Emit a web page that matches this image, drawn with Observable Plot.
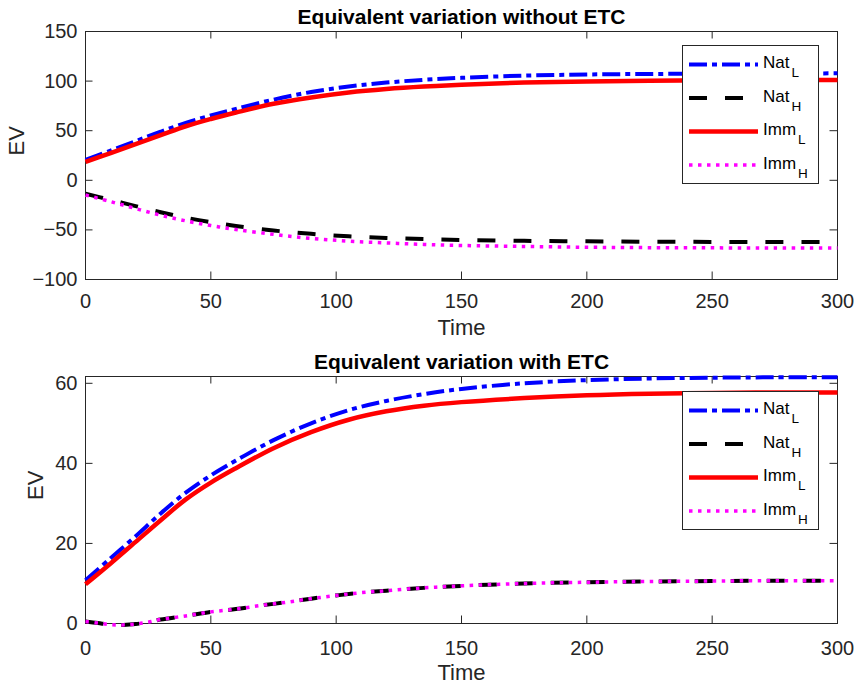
<!DOCTYPE html>
<html><head><meta charset="utf-8">
<script src="https://cdn.jsdelivr.net/npm/d3@7"></script>
<script src="https://cdn.jsdelivr.net/npm/@observablehq/plot@0.6"></script>
<style>
html,body{margin:0;padding:0;background:#fff;}
#page{position:relative;width:857px;height:687px;overflow:hidden;}
.panel{position:relative;width:857px;}
.panel svg{display:block;}
</style></head><body><div id="page"></div>
<script>
// ---------- data ----------
const xTicks = [0, 50, 100, 150, 200, 250, 300];
const yTicksNoETC = [-100, -50, 0, 50, 100, 150];
const yTicksETC = [0, 20, 40, 60];

const seriesNames = ["Nat", "Nat", "Imm", "Imm"];
const seriesSubs = ["L", "H", "L", "H"];

// Panel 1: without ETC
const timeNoETC = [0, 10, 20, 30, 40, 50, 60, 75, 90, 105, 120, 135, 150, 175, 200, 225, 250, 275, 300];
const natL_noETC = [20.5, 30, 39.5, 49, 57.8, 65.3, 72, 81.3, 89, 94.5, 98.5, 101.3, 103.3, 105.5, 106.7, 107.2, 107.5, 107.7, 107.8];
const natH_noETC = [-13.5, -19.7, -26, -32.2, -37.7, -42.2, -46, -50.6, -54, -56.5, -58.1, -59.3, -60.2, -61, -61.5, -61.9, -62.1, -62.2, -62.3];
const immL_noETC = [18.5, 27.5, 36.5, 45.5, 54.5, 61.8, 68.3, 77.2, 83.5, 88.5, 92, 94.5, 96.3, 98.5, 99.7, 100.4, 100.8, 101, 101];
const immH_noETC = [-14.8, -21.5, -28.5, -35.2, -40.9, -45.6, -49.6, -54.5, -58.6, -61.3, -63.1, -64.6, -65.7, -66.7, -67.5, -67.9, -68.1, -68.2, -68.3];

// Panel 2: with ETC
const timeETC_L = [0, 10, 20, 30, 40, 50, 60, 75, 90, 105, 120, 135, 150, 175, 200, 225, 250, 275, 300];
const natL_ETC = [10.8, 16.3, 21.8, 27.5, 32.7, 37, 40.7, 45.8, 50, 53.3, 55.6, 57.3, 58.6, 60, 60.8, 61.2, 61.4, 61.5, 61.5];
const immL_ETC = [9.8, 15, 20.4, 25.8, 31, 35.2, 38.8, 43.8, 47.8, 50.9, 53, 54.4, 55.3, 56.3, 57, 57.4, 57.6, 57.7, 57.7];
const timeETC_H = [0, 5, 10, 15, 20, 25, 30, 40, 50, 60, 70, 80, 90, 100, 110, 120, 135, 150, 175, 200, 225, 250, 275, 300];
const natH_ETC = [0.5, 0.1, -0.3, -0.35, -0.15, 0.35, 1.0, 1.9, 2.9, 3.6, 4.5, 5.3, 6.2, 7.0, 7.7, 8.2, 8.9, 9.4, 10.0, 10.3, 10.5, 10.6, 10.7, 10.7];
const immH_ETC = [0.5, 0.1, -0.3, -0.35, -0.15, 0.35, 1.0, 1.9, 2.9, 3.6, 4.5, 5.3, 6.2, 7.0, 7.7, 8.2, 8.9, 9.4, 10.0, 10.3, 10.5, 10.6, 10.7, 10.7];

// ---------- styles ----------
const FONT = '"Liberation Sans", Arial, Helvetica, sans-serif';
const AX = "#262626";
const lineStyles = [
  {stroke: "#0000ff", dash: "18,5,5,5", width: 4},
  {stroke: "#000000", dash: "18,18", width: 4},
  {stroke: "#ff0000", dash: null, width: 4.5},
  {stroke: "#ff00ff", dash: "3.5,5.5", width: 3.5}
];

function rows(t, v) { return t.map((d, i) => ({t: d, v: v[i]})); }

function makePanel(cfg) {
  const W = 857, ml = 85, mr = 20;
  const fw = W - ml - mr;
  const fh = cfg.height - cfg.marginTop - cfg.marginBottom;
  const tk = 7.5;
  const lineMarks = cfg.series.map((s, i) => Plot.line(rows(s.t, s.v), {
    x: "t", y: "v", curve: "catmull-rom",
    stroke: lineStyles[i].stroke, strokeWidth: lineStyles[i].width,
    strokeDasharray: lineStyles[i].dash, strokeLinecap: "butt", strokeLinejoin: "round"
  }));
  const svg = Plot.plot({
    width: W, height: cfg.height,
    marginLeft: ml, marginRight: mr, marginTop: cfg.marginTop, marginBottom: cfg.marginBottom,
    x: {domain: [0, 300]},
    y: {domain: cfg.yDomain},
    style: {fontFamily: FONT, background: "white", color: AX, overflow: "visible"},
    marks: [
      Plot.frame({stroke: AX, strokeWidth: 1}),
      Plot.tickX(xTicks, {x: d => d, insetTop: fh - tk, stroke: AX, strokeWidth: 1}),
      Plot.tickX(xTicks, {x: d => d, insetBottom: fh - tk, stroke: AX, strokeWidth: 1}),
      Plot.tickY(cfg.yTicks, {y: d => d, insetRight: fw - tk, stroke: AX, strokeWidth: 1}),
      Plot.tickY(cfg.yTicks, {y: d => d, insetLeft: fw - tk, stroke: AX, strokeWidth: 1}),
      Plot.axisX(xTicks, {tickSize: 0, tickPadding: cfg.xPad, fontSize: 20, label: null}),
      Plot.axisY(cfg.yTicks, {tickSize: 0, tickPadding: 8, fontSize: 20, label: null}),
      ...lineMarks,
      Plot.text([cfg.title], {text: d => d, frameAnchor: "top", lineAnchor: "top", dy: -22.5,
        fontSize: 21, fontWeight: "bold", fill: "black"}),
      Plot.text(["Time"], {text: d => d, frameAnchor: "bottom", lineAnchor: "top", dy: cfg.timeDy,
        fontSize: 22, fill: AX}),
      Plot.text(["EV"], {text: d => d, frameAnchor: "left", lineAnchor: "middle", rotate: -90,
        dx: cfg.evDx, fontSize: 22, fill: AX})
    ]
  });
  const div = document.createElement("div");
  div.className = "panel";
  div.style.height = cfg.height + "px";
  div.appendChild(svg);

  // legend (inside axes, top-right)
  const LW = 137, LH = 139;
  const lg = d3.create("svg").attr("width", LW).attr("height", LH)
    .style("position", "absolute").style("left", "682px").style("top", cfg.legendTop + "px")
    .style("font-family", FONT);
  lg.append("rect").attr("x", 0.5).attr("y", 0.5).attr("width", LW - 1).attr("height", LH - 1)
    .attr("fill", "white").attr("stroke", AX).attr("stroke-width", 1);
  seriesNames.forEach((name, i) => {
    const y = 19.5 + i * 33.5;
    lg.append("line").attr("x1", 7).attr("x2", 76).attr("y1", y).attr("y2", y)
      .attr("stroke", lineStyles[i].stroke).attr("stroke-width", lineStyles[i].width)
      .attr("stroke-dasharray", lineStyles[i].dash).attr("stroke-linecap", "butt");
    const tx = lg.append("text").attr("x", 81).attr("y", y + 3.5).attr("font-size", 17).attr("fill", "black");
    tx.append("tspan").text(name);
    tx.append("tspan").attr("dx", 2).attr("dy", 9).attr("font-size", 13.5).text(seriesSubs[i]);
  });
  div.appendChild(lg.node());
  return div;
}

const page = document.getElementById("page");
page.appendChild(makePanel({
  title: "Equivalent variation without ETC",
  height: 343, marginTop: 31, marginBottom: 64,
  yDomain: [-100, 150], yTicks: yTicksNoETC,
  xPad: 14, timeDy: 39.5, evDx: -68.3, legendTop: 45,
  series: [
    {t: timeNoETC, v: natL_noETC},
    {t: timeNoETC, v: natH_noETC},
    {t: timeNoETC, v: immL_noETC},
    {t: timeNoETC, v: immH_noETC}
  ]
}));
page.appendChild(makePanel({
  title: "Equivalent variation with ETC",
  height: 344, marginTop: 33, marginBottom: 64,
  yDomain: [0, 61.7], yTicks: yTicksETC,
  xPad: 17, timeDy: 40.5, evDx: -49.7, legendTop: 48,
  series: [
    {t: timeETC_L, v: natL_ETC},
    {t: timeETC_H, v: natH_ETC},
    {t: timeETC_L, v: immL_ETC},
    {t: timeETC_H, v: immH_ETC}
  ]
}));
</script></body></html>
